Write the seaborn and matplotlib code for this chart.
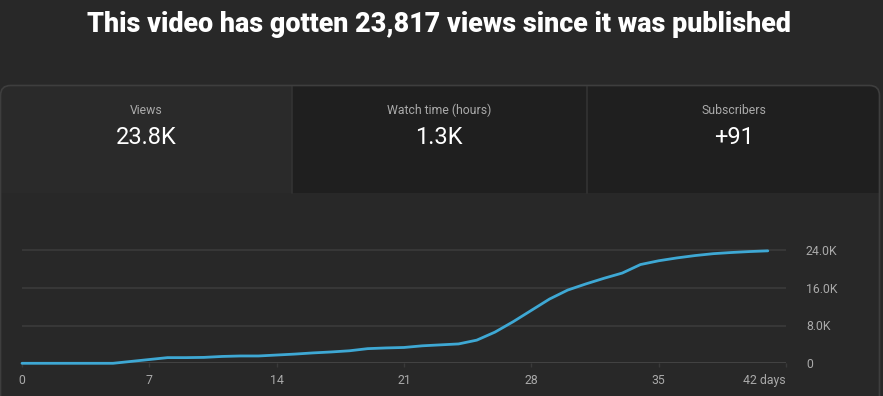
import matplotlib
matplotlib.use("Agg")
import matplotlib.pyplot as plt
import seaborn as sns
import pandas as pd
from matplotlib.patches import FancyBboxPatch, Rectangle
from matplotlib.transforms import IdentityTransform
from matplotlib.lines import Line2D

# ---- data ----
title_text = "This video has gotten 23,817 views since it was published"
card_labels = ["Views", "Watch time (hours)", "Subscribers"]
card_values = ["23.8K", "1.3K", "+91"]
days = list(range(0, 42))
views = [0, 0, 0, 0, 0, 0, 400, 800, 1200, 1200,
         1250, 1450, 1550, 1550, 1750, 1950, 2200, 2400, 2650, 3100,
         3250, 3350, 3700, 3900, 4100, 4900, 6600, 8800, 11200, 13600,
         15500, 16800, 18000, 19100, 20900, 21700, 22300, 22800, 23200, 23450,
         23650, 23800]
x_ticks = [0, 7, 14, 21, 28, 35, 42]
x_ticklabels = ["0", "7", "14", "21", "28", "35", "42 days"]
y_ticks = [0, 8000, 16000, 24000]
y_ticklabels = ["0", "8.0K", "16.0K", "24.0K"]

W, H = 883, 396
BG = "#282828"
sns.set_theme(style="dark")
plt.rcParams["font.family"] = ["Roboto", "DejaVu Sans"]

fig = plt.figure(figsize=(W / 100, H / 100), dpi=100, facecolor=BG)
T = IdentityTransform()
PT = 72 / 100  # points per pixel

def Y(y):
    return H - y

# ---- card and panels ----
card = FancyBboxPatch((0.5, Y(420)), 879, 420 - 85.5,
                      boxstyle="round,pad=0,rounding_size=10",
                      transform=T, facecolor="none", edgecolor="#3e3e3e",
                      linewidth=1.2, zorder=5)
panel_specs = [(0, 292, "#2a2a2a"), (292, 880, "#1f1f1f")]
for x0, x1, col in panel_specs:
    r = Rectangle((x0, Y(193)), x1 - x0, 193 - 85.5, transform=T,
                  facecolor=col, edgecolor="none", zorder=1)
    fig.add_artist(r)
    r.set_clip_path(card)
for xd in [292, 587]:
    fig.add_artist(Line2D([xd, xd], [Y(193), Y(86)], transform=T,
                          color="#333333", linewidth=1.2, zorder=2))
fig.add_artist(card)

centers = [146, 439, 734]
for cx, lab, val in zip(centers, card_labels, card_values):
    fig.text(cx / W, 1 - 110.5 / H, lab, ha="center", va="center",
             color="#aaaaaa", fontsize=8.8)
    fig.text(cx / W, 1 - 138 / H, val, ha="center", va="center",
             color="#ffffff", fontsize=17)

# ---- title (auto-fit to reference width) ----
t = fig.text(439 / W, 1 - 24 / H, title_text, ha="center", va="center",
             color="white", fontsize=20, fontweight="heavy")
fig.canvas.draw()
w = t.get_window_extent(fig.canvas.get_renderer()).width
t.set_fontsize(20 * 704 / w)

# ---- chart ----
px_per_8k = 37.8
top_px, base_px = 240, 363.3
ax = fig.add_axes([22 / W, (H - base_px) / H, 764 / W, (base_px - top_px) / H])
ax.set_facecolor("none")
df = pd.DataFrame({"day": days, "views": views})
sns.lineplot(data=df, x="day", y="views", ax=ax, color="#3ea8d4",
             linewidth=2.0, zorder=4, clip_on=False)
ax.set_xlim(0, 42)
ax.set_ylim(0, (base_px - top_px) / px_per_8k * 8000)
for s in ax.spines.values():
    s.set_visible(False)
for v in y_ticks[1:]:
    ax.axhline(v, color="#393939", linewidth=1.3, zorder=1)
ax.axhline(0, color="#b0b0b0", linewidth=1.0, zorder=3)
ax.set_xlabel("")
ax.set_ylabel("")
ax.set_xticks(x_ticks)
ax.set_xticklabels(x_ticklabels)
ax.tick_params(axis="x", colors="#3a3a3a", labelcolor="#aaaaaa",
               labelsize=8.8, length=3, width=1, pad=7 * PT / 0.72 * 0.72,
               direction="out", bottom=True)
labs = ax.get_xticklabels()
labs[-1].set_ha("right")
ax.yaxis.tick_right()
ax.set_yticks(y_ticks)
ax.set_yticklabels(y_ticklabels)
ax.tick_params(axis="y", colors=BG, labelcolor="#aaaaaa", labelsize=8.8,
               length=0, pad=20 * PT, right=False, left=False)
for lab in ax.get_yticklabels():
    lab.set_ha("left")
ax.grid(False)

fig.savefig("out.png", dpi=100, facecolor=BG)
